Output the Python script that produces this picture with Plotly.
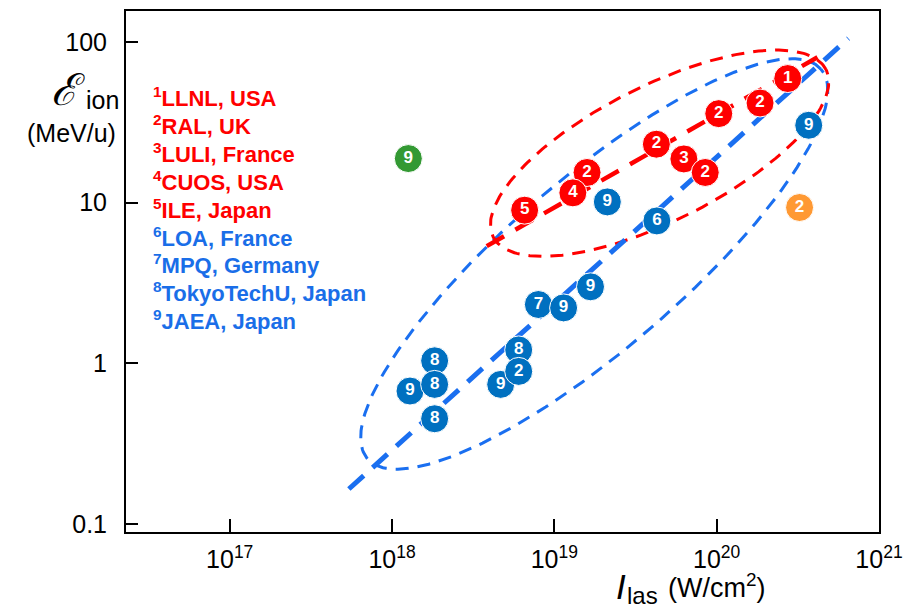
import numpy as np
import plotly.graph_objects as go

# ---------------- data ----------------
red_intensity = [2.74e20, 1.85e20, 1.03e20, 4.25e19, 6.28e19, 8.5e19, 1.59e19, 1.30e19, 6.56e18]
red_energy = [59.2, 41.7, 35.8, 23.1, 18.7, 15.4, 15.4, 11.5, 8.97]
red_labels = ["1", "2", "2", "2", "3", "2", "2", "4", "5"]

blue_intensity = [2.12e19, 4.28e19, 3.69e20, 7.97e18, 1.14e19, 1.67e19, 6.03e18, 4.67e18,
                  6.03e18, 1.29e18, 1.83e18, 1.83e18, 1.83e18]
blue_energy = [10.1, 7.69, 30.3, 2.32, 2.21, 2.99, 1.21, 0.738, 0.889, 0.671, 1.035, 0.738, 0.451]
blue_labels = ["9", "6", "9", "7", "9", "9", "8", "9", "2", "9", "8", "8", "8"]

green_intensity = [1.26e18]
green_energy = [18.8]
green_labels = ["9"]

orange_intensity = [3.24e20]
orange_energy = [9.32]
orange_labels = ["2"]

# guide lines (end points) and ellipses (centre x, centre y, semi-axes in decades, angle in deg)
blue_trend_x = [5.42e17, 6.48e20]
blue_trend_y = [0.1647, 105.4]
red_trend_x = [3.83e18, 4.18e20]
red_trend_y = [5.36, 80.4]
red_ellipse = [4.45e19, 20.3, 1.15, 0.42, 27.0]
blue_ellipse = [1.76e19, 4.15, 1.85, 0.53, 41.0]

legend_red = ["<sup>1</sup>LLNL, USA", "<sup>2</sup>RAL, UK", "<sup>3</sup>LULI, France",
              "<sup>4</sup>CUOS, USA", "<sup>5</sup>ILE, Japan"]
legend_blue = ["<sup>6</sup>LOA, France", "<sup>7</sup>MPQ, Germany",
               "<sup>8</sup>TokyoTechU, Japan", "<sup>9</sup>JAEA, Japan"]

x_tickvals = [1e17, 1e18, 1e19, 1e20, 1e21]
x_ticktext = ["10<sup>17</sup>", "10<sup>18</sup>", "10<sup>19</sup>", "10<sup>20</sup>", "10<sup>21</sup>"]
y_tickvals = [0.1, 1, 10, 100]
y_ticktext = ["0.1", "1", "10", "100"]

# ---------------- styling ----------------
RED = "#ff0000"
BLUE_LINE = "#1a6ff0"
BLUE_TEXT = "#1a6ee8"
BLUE_MARK = "#0070c0"
GREEN = "#339933"
ORANGE = "#ff9933"
FONT = "Liberation Sans, Arial, sans-serif"


def ellipse(params, n=240):
    cx, cy, a, b, ang = params
    t = np.linspace(0, 2 * np.pi, n)
    th = np.deg2rad(ang)
    lx = np.log10(cx) + a * np.cos(t) * np.cos(th) - b * np.sin(t) * np.sin(th)
    ly = np.log10(cy) + a * np.cos(t) * np.sin(th) + b * np.sin(t) * np.cos(th)
    return 10 ** lx, 10 ** ly


fig = go.Figure()

bx, by = ellipse(blue_ellipse)
fig.add_trace(go.Scatter(x=bx, y=by, mode="lines",
                         line=dict(color=BLUE_LINE, width=3, dash="13px,9px"), hoverinfo="skip"))
rx, ry = ellipse(red_ellipse)
fig.add_trace(go.Scatter(x=rx, y=ry, mode="lines",
                         line=dict(color=RED, width=3, dash="13px,9px"), hoverinfo="skip"))
fig.add_trace(go.Scatter(x=blue_trend_x, y=blue_trend_y, mode="lines",
                         line=dict(color=BLUE_LINE, width=5, dash="20px,12px"), hoverinfo="skip"))
fig.add_trace(go.Scatter(x=red_trend_x, y=red_trend_y, mode="lines",
                         line=dict(color=RED, width=4.5, dash="20px,13px"), hoverinfo="skip"))


def add_points(xs, ys, labels, color):
    fig.add_trace(go.Scatter(
        x=xs, y=ys, text=labels, mode="markers+text",
        marker=dict(size=28, color=color, line=dict(color="white", width=1)),
        textposition="middle center",
        textfont=dict(family=FONT, size=17, color="white", weight="bold"),
        hoverinfo="skip"))


add_points(blue_intensity, blue_energy, blue_labels, BLUE_MARK)
add_points(red_intensity, red_energy, red_labels, RED)
add_points(green_intensity, green_energy, green_labels, GREEN)
add_points(orange_intensity, orange_energy, orange_labels, ORANGE)

# ---------------- layout ----------------
L, R, T, B = 126, 879, 11, 532
W, H = 908, 612


def px(x):
    return (x - L) / (R - L)


def py(y):
    return (B - y) / (B - T)


annotations = []
for i, txt in enumerate(legend_red + legend_blue):
    color = RED if i < len(legend_red) else BLUE_TEXT
    annotations.append(dict(x=px(151), y=py(97 + i * 27.9), xref="paper", yref="paper",
                            text="<b>" + txt + "</b>", showarrow=False, xanchor="left",
                            yanchor="middle", font=dict(family=FONT, size=22, color=color)))

# y title
annotations.append(dict(x=px(87), y=py(89), xref="paper", yref="paper", text="<i>ℰ</i>",
                        showarrow=False, xanchor="right", yanchor="middle",
                        font=dict(family="DejaVu Serif", size=44, color="black")))
annotations.append(dict(x=px(84), y=py(100), xref="paper", yref="paper", text="ion",
                        showarrow=False, xanchor="left", yanchor="middle",
                        font=dict(family=FONT, size=25, color="black")))
annotations.append(dict(x=px(118), y=py(133), xref="paper", yref="paper", text="(MeV/u)",
                        showarrow=False, xanchor="right", yanchor="middle",
                        font=dict(family=FONT, size=25, color="black")))
# x title
annotations.append(dict(x=px(628), y=py(586), xref="paper", yref="paper", text="<i>I</i>",
                        showarrow=False, xanchor="right", yanchor="middle",
                        font=dict(family=FONT, size=35, color="black")))
annotations.append(dict(x=px(625), y=py(595), xref="paper", yref="paper", text="las",
                        showarrow=False, xanchor="left", yanchor="middle",
                        font=dict(family=FONT, size=24, color="black")))
annotations.append(dict(x=px(666), y=py(586), xref="paper", yref="paper",
                        text="(W/cm<sup>2</sup>)",
                        showarrow=False, xanchor="left", yanchor="middle",
                        font=dict(family=FONT, size=27, color="black")))

fig.update_layout(
    width=W, height=H,
    margin=dict(l=L, r=W - R, t=T, b=H - B, pad=0, autoexpand=False),
    plot_bgcolor="white", paper_bgcolor="white",
    showlegend=False,
    font=dict(family=FONT, color="black"),
    annotations=annotations,
)
fig.update_xaxes(type="log", range=[16.361, 21.0], tickvals=x_tickvals, ticktext=x_ticktext,
                 ticks="inside", ticklen=13, tickwidth=2, tickcolor="black",
                 showline=True, linewidth=2, linecolor="black", mirror=True, automargin=False,
                 showgrid=False, zeroline=False, tickfont=dict(family=FONT, size=25, color="black"),
                 ticklabelstandoff=4)
fig.update_yaxes(type="log", range=[-1.051, 2.193], tickvals=y_tickvals, ticktext=y_ticktext,
                 ticks="inside", ticklen=12, tickwidth=2, tickcolor="black",
                 showline=True, linewidth=2, linecolor="black", mirror=True, automargin=False,
                 showgrid=False, zeroline=False, tickfont=dict(family=FONT, size=25, color="black"),
                 ticklabelstandoff=12)

fig.write_html("out.html", config={"displayModeBar": False},
               post_script="document.body.style.margin='0';document.body.style.overflow='hidden';")
